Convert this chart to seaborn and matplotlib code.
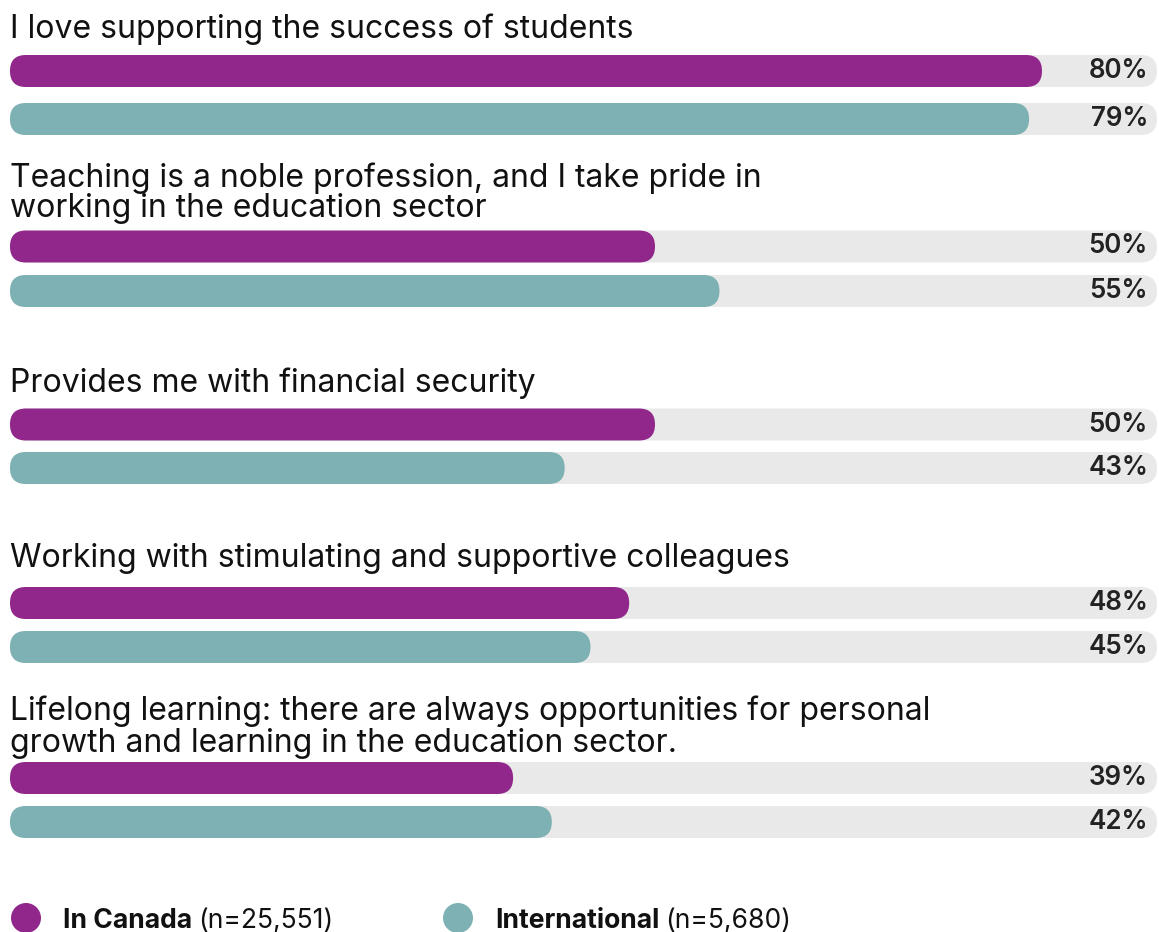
import matplotlib
matplotlib.use("Agg")
import matplotlib.pyplot as plt
from matplotlib.patches import FancyBboxPatch, Circle
import pandas as pd
import seaborn as sns

# --- data -------------------------------------------------------------
statements = [
    ["I love supporting the success of students"],
    ["Teaching is a noble profession, and I take pride in",
     "working in the education sector"],
    ["Provides me with financial security"],
    ["Working with stimulating and supportive colleagues"],
    ["Lifelong learning: there are always opportunities for personal",
     "growth and learning in the education sector."],
]
in_canada = [80, 50, 50, 48, 39]
international = [79, 55, 43, 45, 42]
series = ["In Canada", "International"]
sample_sizes = ["n=25,551", "n=5,680"]

# --- style ------------------------------------------------------------
PURPLE = "#91268B"
TEAL = "#7DB1B3"
TRACK = "#E9E9E9"
TEXT = "#111111"

sns.set_theme(style="white")
plt.rcParams["font.family"] = ["Inter", "DejaVu Sans"]

W, H = 1159, 932
DPI = 100
fig = plt.figure(figsize=(W / DPI, H / DPI), dpi=DPI)

PX = 72 / DPI                      # points per pixel
LEFT = 10                          # bar start (px)
SCALE = 12.9                       # px per percentage point
XMAX = (W - LEFT) / SCALE
TRACK_END = (1157 - LEFT) / SCALE
LABEL_X = (1148 - LEFT) / SCALE
BAR_H = 32                         # px

# vertical layout in pixels: bar centres and title baselines per group
bar_centres = [(71, 119), (246.5, 291), (424.5, 468), (603, 647), (778, 822)]
title_baselines = [(38,), (187, 217), (392,), (567,), (720, 752)]


def rounded(x, y, w, h, color, aspect, z):
    r = 0.499 * h / aspect
    return FancyBboxPatch((x, y), w, h,
                          boxstyle=f"round,pad=0,rounding_size={r}",
                          mutation_aspect=aspect, facecolor=color,
                          edgecolor="none", linewidth=0, zorder=z)


for g, lines in enumerate(statements):
    c0, c1 = bar_centres[g]
    d = c1 - c0
    top, bottom = c0 - d / 2, c1 + d / 2
    ax = fig.add_axes([LEFT / W, 1 - bottom / H, (W - LEFT) / W, (bottom - top) / H])

    df = pd.DataFrame({"series": series,
                       "value": [in_canada[g], international[g]]})
    sns.barplot(data=df, x="value", y="series", hue="series",
                palette=[PURPLE, TEAL], saturation=1, width=BAR_H / d,
                errorbar=None, legend=False, ax=ax, orient="h")
    ax.set_xlim(0, XMAX)
    ax.set_ylim(1.5, -0.5)
    ax.set_axis_off()

    aspect = SCALE / d
    for p in list(ax.patches):
        x, y, w, h = p.get_x(), p.get_y(), p.get_width(), p.get_height()
        fc = p.get_facecolor()
        p.remove()
        ax.add_patch(rounded(x, y, w, h, fc, aspect, 2))
        ax.add_patch(rounded(0, y, TRACK_END, h, TRACK, aspect, 1))

    for i, v in enumerate(df["value"]):
        ax.text(LABEL_X, i, f"{v}%", ha="right", va="center",
                fontsize=26 * PX, fontweight="semibold", color="#222222",
                zorder=3)

    for line, base in zip(lines, title_baselines[g]):
        fig.text(LEFT / W, 1 - base / H, line, ha="left", va="baseline",
                 fontsize=32 * PX, color=TEXT)

# --- legend -----------------------------------------------------------
legend_items = [(26, 63, PURPLE), (458, 495, TEAL)]
renderer = fig.canvas.get_renderer()
for (cx, tx, col), name, n in zip(legend_items, series, sample_sizes):
    fig.patches.append(Circle((cx / DPI, (H - 918) / DPI), 15 / DPI,
                              transform=fig.dpi_scale_trans,
                              facecolor=col, edgecolor="none"))
    t = fig.text(tx / W, 1 - 928 / H, name, ha="left", va="baseline",
                 fontsize=26.5 * PX, fontweight="bold", color=TEXT)
    bb = t.get_window_extent(renderer)
    fig.text(bb.x1 / W + 6 / W, 1 - 928 / H, f"({n})", ha="left", va="baseline",
             fontsize=26.5 * PX, color=TEXT)

fig.savefig("out.png", dpi=DPI)
